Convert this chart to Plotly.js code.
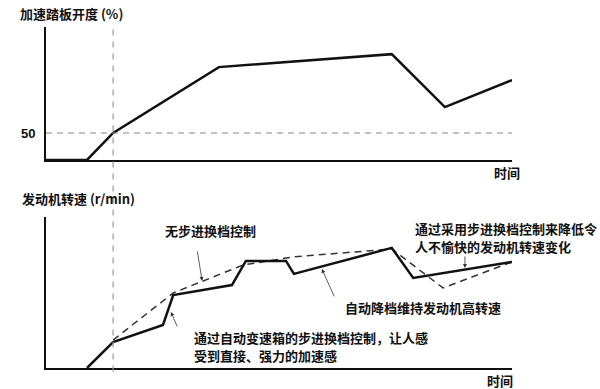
<!DOCTYPE html>
<html>
<head>
<meta charset="utf-8">
<script src="https://cdn.plot.ly/plotly-3.0.1.min.js"></script>
<style>html,body{margin:0;padding:0;background:#fff;}#chart{width:600px;height:389px;}</style>
</head>
<body>
<div id="chart"></div>
<script>
// Top chart: accelerator pedal opening
const timeTop = [0, 8.8, 14.4, 37.1, 74.2, 85.6, 100];
const pedal = [0, 0, 50, 172, 196, 98, 148];
const pedalTickVals = [50];
const pedalTickText = ["50"];

// Bottom chart: engine speed
const timeStep = [8.8, 14.4, 25.1, 27.3, 39.9, 42.9, 51.5, 53.2, 74.2, 78.8, 100];
const rpmStep = [0, 17.2, 28.5, 48.3, 54.9, 70.9, 70.9, 62.3, 79.5, 59.6, 70.2];
const timeCvt = [14.4, 27.3, 42.3, 53.0, 63.7, 74.2, 85.2, 100];
const rpmCvt = [18.5, 49.7, 68.2, 73.5, 76.2, 78.8, 53.0, 70.2];

const markTime = 14.4;   // vertical reference time
const refLevel = 50;     // pedal 50% reference

const titleTop = "加速踏板开度 (%)";
const titleBottom = "发动机转速 (r/min)";
const timeLabel = "时间";
const labelCvt = "无步进换档控制";
const labelStep1 = "通过自动变速箱的步进换档控制，让人感";
const labelStep2 = "受到直接、强力的加速感";
const labelDown = "自动降档维持发动机高转速";
const labelRight1 = "通过采用步进换档控制来降低令";
const labelRight2 = "人不愉快的发动机转速变化";

const CJK = '"Noto Sans CJK SC", "Noto Sans", sans-serif';
const txtFont = {family: CJK, size: 13, color: '#111', weight: 700};

const traces = [
  {x: timeTop, y: pedal, xaxis: 'x', yaxis: 'y', mode: 'lines',
   line: {color: '#111', width: 2.5}, cliponaxis: false, hoverinfo: 'skip'},
  {x: timeCvt, y: rpmCvt, xaxis: 'x2', yaxis: 'y2', mode: 'lines',
   line: {color: '#333', width: 1.5, dash: '7px,5px'}, cliponaxis: false, hoverinfo: 'skip'},
  {x: timeStep, y: rpmStep, xaxis: 'x2', yaxis: 'y2', mode: 'lines',
   line: {color: '#111', width: 2.5}, cliponaxis: false, hoverinfo: 'skip'}
];

const axBase = {showgrid: false, zeroline: false, showline: true, linecolor: '#111', linewidth: 2, fixedrange: true};

function lbl(text, px, py, anchor) {
  return {text: text, xref: 'paper', yref: 'paper', x: (px - 46) / 466, y: (368 - py) / 341,
          xanchor: anchor, yanchor: 'middle', showarrow: false, font: txtFont};
}

const layout = {
  width: 600, height: 389,
  margin: {l: 46, r: 88, t: 27, b: 21},
  paper_bgcolor: '#fff', plot_bgcolor: '#fff',
  showlegend: false,
  xaxis: Object.assign({}, axBase, {range: [0, 100], domain: [0, 1], anchor: 'y', showticklabels: false, ticks: ''}),
  yaxis: Object.assign({}, axBase, {range: [0, 246.3], domain: [0.61, 1], anchor: 'x',
    tickvals: pedalTickVals, ticktext: pedalTickText, ticks: 'outside', ticklen: 6, tickcolor: 'rgba(0,0,0,0)',
    tickfont: {family: 'Liberation Sans, Arial, sans-serif', size: 13, color: '#111', weight: 700}}),
  xaxis2: Object.assign({}, axBase, {range: [0, 100], domain: [0, 1], anchor: 'y2', showticklabels: false, ticks: ''}),
  yaxis2: Object.assign({}, axBase, {range: [0, 100], domain: [0, 0.443], anchor: 'x2', showticklabels: false, ticks: ''}),
  shapes: [
    {type: 'line', xref: 'x', yref: 'y', x0: 0, x1: 100, y0: refLevel, y1: refLevel,
     line: {color: '#888', width: 1.2, dash: '6px,5px'}},
    {type: 'line', xref: 'x', yref: 'paper', x0: markTime, x1: markTime, y0: -0.01, y1: 1,
     line: {color: '#999', width: 1.2, dash: '6px,6px'}}
  ],
  annotations: [
    lbl(titleTop, 18, 13, 'left'),
    lbl(timeLabel, 507, 173, 'center'),
    lbl(titleBottom, 20, 198, 'left'),
    lbl(timeLabel, 500, 380, 'center'),
    lbl(labelCvt, 210, 230, 'center'),
    lbl(labelStep1, 192, 337, 'left'),
    lbl(labelStep2, 192, 355, 'left'),
    lbl(labelDown, 343, 307, 'left'),
    lbl(labelRight1, 413, 229, 'left'),
    lbl(labelRight2, 413, 246, 'left'),
    // arrows
    {text: '', xref: 'x2', yref: 'y2', x: 33.5, y: 57.6, ax: -5, ay: -31, showarrow: true, arrowhead: 2, arrowsize: 1, arrowwidth: 0.8, arrowcolor: '#333'},
    {text: '', xref: 'x2', yref: 'y2', x: 26.8, y: 37.1, ax: 7, ay: 16, showarrow: true, arrowhead: 2, arrowsize: 1, arrowwidth: 0.8, arrowcolor: '#333'},
    {text: '', xref: 'x2', yref: 'y2', x: 59.2, y: 65.6, ax: 13, ay: 29, showarrow: true, arrowhead: 2, arrowsize: 1, arrowwidth: 0.8, arrowcolor: '#333'},
    {text: '', xref: 'x2', yref: 'y2', x: 89.9, y: 66.2, ax: 0, ay: -13, showarrow: true, arrowhead: 2, arrowsize: 1, arrowwidth: 0.8, arrowcolor: '#333'}
  ]
};

Plotly.newPlot('chart', traces, layout, {displayModeBar: false, staticPlot: true});
</script>
</body>
</html>
